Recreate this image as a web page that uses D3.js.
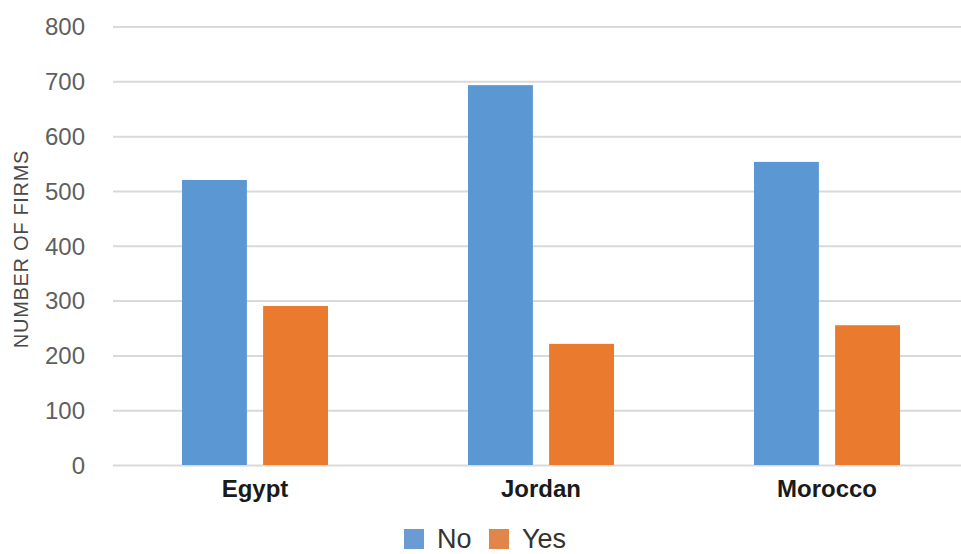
<!DOCTYPE html>
<html>
<head>
<meta charset="utf-8">
<script src="https://cdn.jsdelivr.net/npm/d3@7"></script>
<style>
  html, body { margin: 0; padding: 0; background: #fff; }
  svg { display: block; }
</style>
</head>
<body>
<svg id="chart" width="961" height="554"></svg>
<script>
const categories = ["Egypt", "Jordan", "Morocco"];
const seriesNames = ["No", "Yes"];
const noValues = [520, 693, 553];
const yesValues = [290, 221, 255];
const yTicks = [0, 100, 200, 300, 400, 500, 600, 700, 800];
const yTitle = "NUMBER OF FIRMS";

const colors = { No: "#5B97D3", Yes: "#E97A2E" };
const legendColors = { No: "#6A9BD3", Yes: "#E0864A" };

const svg = d3.select("#chart");
const W = 961, H = 554;

const y = d3.scaleLinear().domain([0, 800]).range([465, 26.5]);
const x0 = d3.scaleBand().domain(categories).range([112, 970]).padding(0);
const groupW = 146;
const x1 = d3.scaleBand().domain(seriesNames).range([0, groupW]).paddingInner(0.2).paddingOuter(0);

// gridlines
const grid = svg.append("g")
  .attr("transform", "translate(113,0)")
  .call(d3.axisLeft(y).tickValues(yTicks).tickSize(-(W - 113)).tickFormat(""));
grid.select(".domain").remove();
grid.selectAll(".tick line").attr("stroke", "#D9D9D9").attr("stroke-width", 2);

// y tick labels
const yAxis = svg.append("g")
  .attr("transform", "translate(85,0)")
  .call(d3.axisLeft(y).tickValues(yTicks).tickSize(0).tickPadding(0));
yAxis.select(".domain").remove();
yAxis.selectAll("text")
  .attr("fill", "#5f5f5f")
  .attr("font-family", "'Liberation Sans', Arial, sans-serif")
  .attr("font-size", 24)
  .attr("dy", "0.35em");

// y title
svg.append("text")
  .attr("transform", `translate(28,249) rotate(-90)`)
  .attr("text-anchor", "middle")
  .attr("font-family", "'Liberation Sans', Arial, sans-serif")
  .attr("font-size", 20)
  .attr("letter-spacing", 0.7)
  .attr("fill", "#4a4a4a")
  .text(yTitle);

// data rows
const rows = categories.map((c, i) => ({ category: c, No: noValues[i], Yes: yesValues[i] }));

const groups = svg.append("g").selectAll("g")
  .data(rows)
  .join("g")
  .attr("transform", d => `translate(${x0(d.category) + (x0.bandwidth() - groupW) / 2},0)`);

groups.selectAll("rect")
  .data(d => seriesNames.map(s => ({ key: s, value: d[s] })))
  .join("rect")
  .attr("x", d => x1(d.key))
  .attr("width", x1.bandwidth())
  .attr("y", d => y(d.value))
  .attr("height", d => y(0) - y(d.value))
  .attr("fill", d => colors[d.key]);

// category labels
const xAxis = svg.append("g")
  .attr("transform", "translate(0,465)")
  .call(d3.axisBottom(x0).tickSize(0).tickPadding(0));
xAxis.select(".domain").remove();
xAxis.selectAll("text")
  .attr("y", 32)
  .attr("dy", 0)
  .attr("fill", "#1a1a1a")
  .attr("font-family", "'Liberation Sans Narrow', 'Arial Narrow', 'Liberation Sans', sans-serif")
  .attr("font-weight", "bold")
  .attr("font-size", 24);

// legend
const legendPos = { No: 404, Yes: 489 };
const legend = svg.append("g");
seriesNames.forEach(s => {
  legend.append("rect")
    .attr("x", legendPos[s])
    .attr("y", 529)
    .attr("width", 20)
    .attr("height", 20)
    .attr("fill", legendColors[s]);
  legend.append("text")
    .attr("x", legendPos[s] + 33)
    .attr("y", 548)
    .attr("font-family", "'Liberation Sans', Arial, sans-serif")
    .attr("font-size", 27)
    .attr("fill", "#333")
    .text(s);
});
</script>
</body>
</html>
